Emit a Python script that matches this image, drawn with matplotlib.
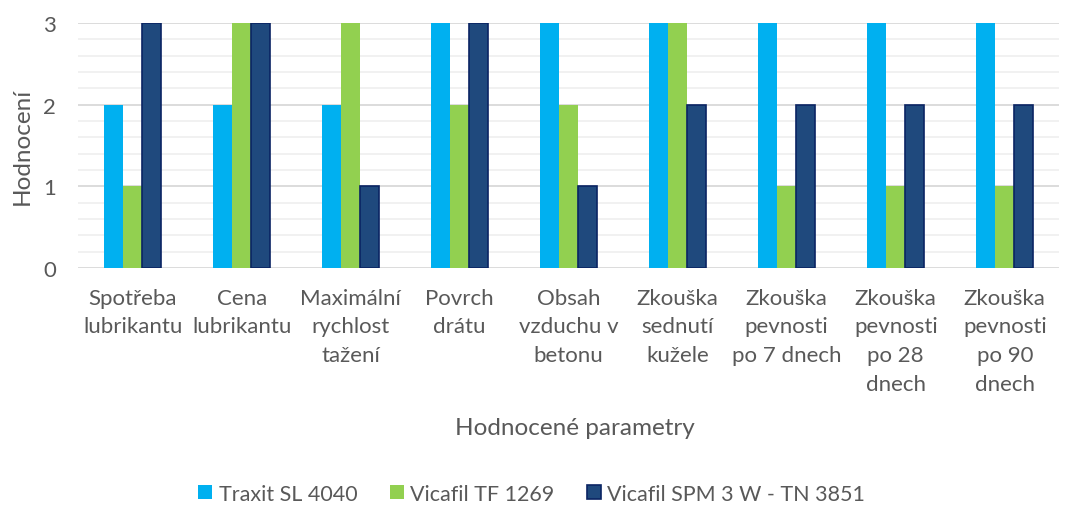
import numpy as np
import matplotlib
matplotlib.use("Agg")
import matplotlib.pyplot as plt
from matplotlib.ticker import MultipleLocator

plt.rcParams['font.family'] = ['Lato', 'DejaVu Sans']

categories = ["Spotřeba\nlubrikantu", "Cena\nlubrikantu", "Maximální\nrychlost\ntažení",
              "Povrch\ndrátu", "Obsah\nvzduchu v\nbetonu", "Zkouška\nsednutí\nkužele",
              "Zkouška\npevnosti\npo 7 dnech", "Zkouška\npevnosti\npo 28\ndnech",
              "Zkouška\npevnosti\npo 90\ndnech"]
traxit = [2, 2, 2, 3, 3, 3, 3, 3, 3]
vicafil_tf = [1, 3, 3, 2, 2, 3, 1, 1, 1]
vicafil_spm = [3, 3, 1, 3, 1, 2, 2, 2, 2]
series_names = ["Traxit SL 4040", "Vicafil TF 1269", "Vicafil SPM 3 W - TN 3851"]

fig = plt.figure(figsize=(10.7, 5.06), dpi=100)
ax = fig.add_axes([0.073, 0.468, 0.917, 0.485])

x = np.arange(len(categories))
w = 0.175
ax.bar(x - w, traxit, w, color="#00B0F0", label=series_names[0], zorder=3)
ax.bar(x, vicafil_tf, w, color="#92D050", label=series_names[1], zorder=3)
ax.bar(x + w, vicafil_spm, w, color="#1F497D", edgecolor="#0A2463", linewidth=1.2,
       label=series_names[2], zorder=3)

ax.set_xlim(-0.5, len(categories) - 0.5)
ax.set_ylim(0, 3)
ax.yaxis.set_major_locator(MultipleLocator(1))
ax.yaxis.set_minor_locator(MultipleLocator(0.2))
ax.grid(axis="y", which="major", color="#D9D9D9", linewidth=1.3, zorder=0)
ax.grid(axis="y", which="minor", color="#F0F0F0", linewidth=1.3, zorder=0)
for s in ax.spines.values():
    s.set_visible(False)
ax.tick_params(axis="both", which="both", length=0, labelsize=16, colors="#595959")
ax.tick_params(axis="y", pad=16)
ax.tick_params(axis="x", pad=14)
ax.set_xticks(x)
ax.set_xticklabels(categories, linespacing=1.55)
ax.set_ylabel("Hodnocení", fontsize=17.5, color="#595959", va="center")
ax.yaxis.set_label_coords(-0.057, 0.5)
ax.set_xlabel("Hodnocené parametry", fontsize=17.5, color="#595959", va="center")
ax.xaxis.set_label_coords(0.506, -0.649)

fig.legend(loc="center", bbox_to_anchor=(0.497, 0.022), ncol=3, frameon=False,
           fontsize=15.5, handlelength=0.65, handleheight=0.65, handletextpad=0.3,
           columnspacing=1.5, labelcolor="#595959")

fig.savefig("out.png", dpi=100)
